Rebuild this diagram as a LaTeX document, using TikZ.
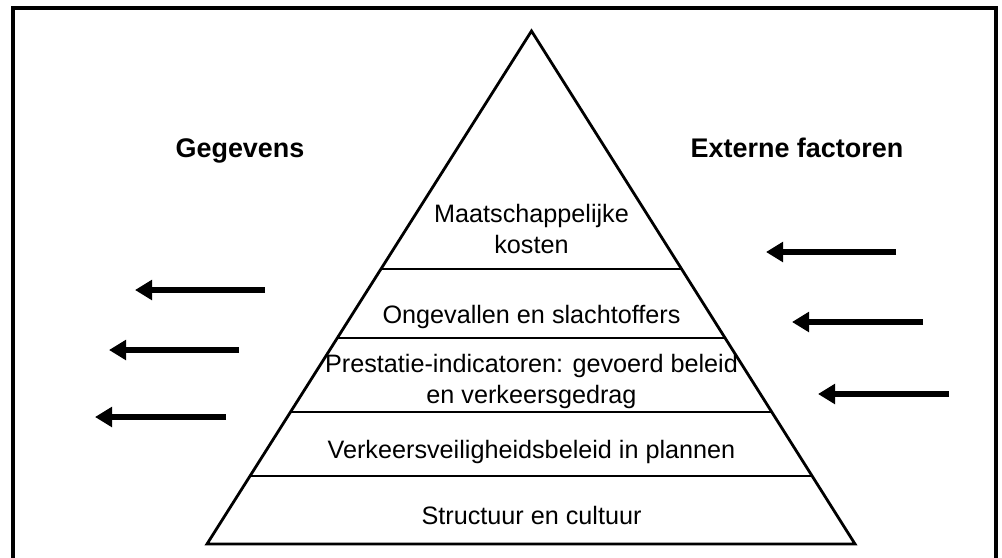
\documentclass[tikz,border=0pt]{standalone}
\usepackage{fontspec}
\setmainfont{Liberation Sans}
\usetikzlibrary{arrows.meta,calc}

\tikzset{
  frameline/.style={line width=2.4pt},
  pyr/.style={line width=2.1pt, line join=miter},
  layer/.style={line width=1.8pt},
  flow/.style={line width=4.5pt, -{Triangle[length=12.75pt,width=14.5pt]}},
  lbl/.style={font=\fontsize{18.9}{23.25}\selectfont, align=center, inner sep=0pt, anchor=base},
  head/.style={lbl, font=\fontsize{20.2}{24}\selectfont\bfseries}
}

\begin{document}
\begin{tikzpicture}[x=0.75pt, y=-0.75pt]
  \useasboundingbox (0,0) rectangle (1002,557);

  % open frame (no bottom edge)
  \draw[frameline] (13,560) -- (13,8) -- (996,8) -- (996,560);

  % pyramid
  \coordinate (apex) at (531.5,31);
  \coordinate (bl) at (207,544);
  \coordinate (br) at (855,544);
  \draw[pyr] (apex) -- (bl) -- (br) -- cycle;

  % layer boundaries
  \foreach \t/\n in {0.4639/a, 0.5984/b, 0.7427/c, 0.8674/d} {
    \coordinate (l\n) at ($(apex)!\t!(bl)$);
    \coordinate (r\n) at ($(apex)!\t!(br)$);
    \draw[layer] (l\n) -- (r\n);
  }

  % layer labels (base anchor sits on the last line)
  \node[lbl] (cost) at (531.5,253) {Maatschappelijke\\kosten};
  \node[lbl] (acc)  at (531.5,323) {Ongevallen en slachtoffers};
  \node[lbl] (perf) at (531.5,403) {Prestatie-indicatoren: gevoerd beleid\\en verkeersgedrag};
  \node[lbl] (plan) at (531.5,458) {Verkeersveiligheidsbeleid in plannen};
  \node[lbl] (cult) at (531.5,524) {Structuur en cultuur};

  % side headings
  \node[head] (data) at (240,157) {Gegevens};
  \node[head] (ext)  at (797,157) {Externe factoren};

  % outgoing data arrows (left)
  \coordinate (d1s) at (265,290); \coordinate (d1e) at (135,290);
  \coordinate (d2s) at (239,350); \coordinate (d2e) at (109,350);
  \coordinate (d3s) at (226,417); \coordinate (d3e) at (95,417);
  \draw[flow] (d1s) -- (d1e);
  \draw[flow] (d2s) -- (d2e);
  \draw[flow] (d3s) -- (d3e);

  % incoming external factors (right)
  \coordinate (e1s) at (896,252); \coordinate (e1e) at (766,252);
  \coordinate (e2s) at (923,322); \coordinate (e2e) at (792,322);
  \coordinate (e3s) at (949,394); \coordinate (e3e) at (818,394);
  \draw[flow] (e1s) -- (e1e);
  \draw[flow] (e2s) -- (e2e);
  \draw[flow] (e3s) -- (e3e);
\end{tikzpicture}
\end{document}
